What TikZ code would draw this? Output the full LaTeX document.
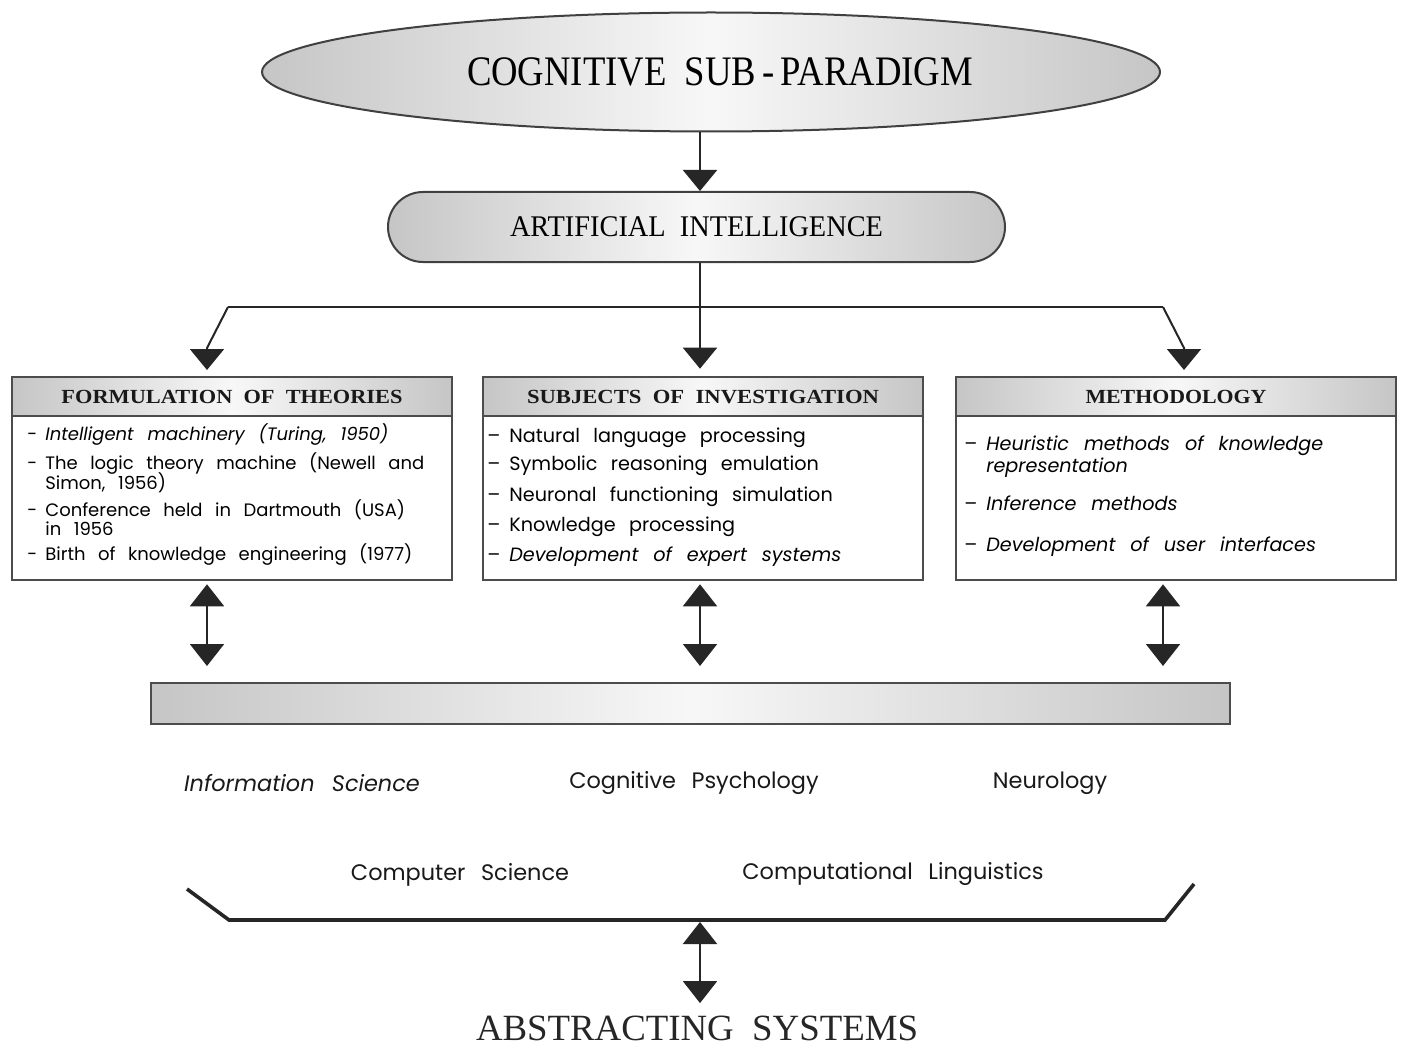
\documentclass[tikz,border=0pt]{standalone}
\usepackage{fontspec}
\usepackage{graphicx}
\setmainfont{Liberation Serif}
\newfontfamily\geo[WordSpace=2.6]{Poppins}
\usetikzlibrary{arrows.meta,shapes.geometric,calc}

% stretch a title to a given width while keeping its height
\newcommand{\fitto}[2]{\resizebox{#1}{\height}{#2}}

\tikzset{
  edge/.style={line width=1pt, draw=black!85},
  tip/.style={-{Triangle[width=17pt,length=10.5pt]}},
  twotip/.style={{Triangle[width=17pt,length=11pt]}-{Triangle[width=17pt,length=11pt]}},
  band/.style={left color=gray!45, right color=gray!45, middle color=gray!6},
  panel/.style={draw=black!70, line width=1.3pt, fill=white, minimum width=220pt,
    minimum height=101.5pt, inner sep=0pt,
    path picture={
      \fill[band] (path picture bounding box.north west) rectangle
        ([yshift=-19.5pt]path picture bounding box.north east);
      \draw[black!70, line width=1.3pt] ([yshift=-19.5pt]path picture bounding box.north west) --
        ([yshift=-19.5pt]path picture bounding box.north east);
    }},
  head/.style={font=\bfseries\fontsize{10}{12}\selectfont, inner sep=0pt, text=black!90},
  body/.style={font=\geo\fontsize{9}{10}\selectfont, anchor=west, inner sep=0pt, text=black},
  bodyi/.style={body, font=\geo\itshape\fontsize{9}{10}\selectfont},
  bodyb/.style={body, font=\geo\fontsize{9.6}{11}\selectfont},
  bodybi/.style={body, font=\geo\itshape\fontsize{9.6}{11}\selectfont},
  field/.style={font=\geo\fontsize{11.2}{13}\selectfont, inner sep=0pt, text=black!90},
}

\begin{document}
\begin{tikzpicture}[x=0.5pt, y=-0.5pt]
\useasboundingbox[fill=white] (0,0) rectangle (1401,1048);

% top of the hierarchy
\node[ellipse, draw=black!75, line width=1pt, band, minimum width=449pt, minimum height=59.5pt, inner sep=0pt]
  (cog) at (711,72) {\hspace*{9pt}\fontsize{21}{24}\selectfont\fitto{253pt}{COGNITIVE\ \ SUB\,-\,PARADIGM}};
\node[draw=black!75, line width=1pt, band, rounded corners=17.5pt, minimum width=308.5pt, minimum height=35pt, inner sep=0pt]
  (ai) at (696.5,227) {\fontsize{15}{18}\selectfont\fitto{186.5pt}{ARTIFICIAL\ \ INTELLIGENCE}};

% the three panels
\node[panel] (b1) at (232,478.5) {};
\node[panel] (b2) at (703,478.5) {};
\node[panel] (b3) at (1176,478.5) {};
\node[head] (h1) at (232,397) {\fitto{170.5pt}{FORMULATION\ \ OF\ \ THEORIES}};
\node[head] (h2) at (703,397) {\fitto{176pt}{SUBJECTS\ \ OF\ \ INVESTIGATION}};
\node[head] (h3) at (1176,397) {\fitto{90.5pt}{METHODOLOGY}};

% panel 1
\node[bodyi] (f1) at (45,435) {\llap{\upshape-\hspace{4pt}}Intelligent machinery (Turing, 1950)};
\node[body] (f2) at (45,464) {\llap{-\hspace{4pt}}The logic theory machine (Newell and};
\node[body] (f2b) at (45,483) {Simon, 1956)};
\node[body] (f3) at (45,510) {\llap{-\hspace{4pt}}Conference held in Dartmouth (USA)};
\node[body] (f3b) at (45,529) {in 1956};
\node[body] (f4) at (45,555) {\llap{-\hspace{4pt}}Birth of knowledge engineering (1977)};

% panel 2
\node[bodyb] (s1) at (509,438) {\llap{–\hspace{4.5pt}}Natural language processing};
\node[bodyb] (s2) at (509,466) {\llap{–\hspace{4.5pt}}Symbolic reasoning emulation};
\node[bodyb] (s3) at (509,497) {\llap{–\hspace{4.5pt}}Neuronal functioning simulation};
\node[bodyb] (s4) at (509,527) {\llap{–\hspace{4.5pt}}Knowledge processing};
\node[bodybi] (s5) at (509,557) {\llap{\upshape–\hspace{4.5pt}}Development of expert systems};

% panel 3
\node[bodybi] (m1) at (986,446) {\llap{\upshape–\hspace{4.5pt}}Heuristic methods of knowledge};
\node[bodybi] (m1b) at (986,468) {representation};
\node[bodybi] (m2) at (986,503) {\llap{\upshape–\hspace{4.5pt}}Inference methods};
\node[bodybi] (m3) at (986,547) {\llap{\upshape–\hspace{4.5pt}}Development of user interfaces};

% shared bar and the fields below it
\node[draw=black!70, line width=1.3pt, band, minimum width=539.5pt, minimum height=20.5pt, inner sep=0pt]
  (bar) at (690.5,703.5) {};
\node[field, font=\geo\itshape\fontsize{11.2}{13}\selectfont] (is) at (302,783) {Information Science};
\node[field] (cp) at (694,783) {Cognitive Psychology};
\node[field] (ne) at (1050,783) {Neurology};
\node[field] (cs) at (460,875) {Computer Science};
\node[field] (cl) at (893,874) {Computational Linguistics};
\node[inner sep=0pt, text=black!85, anchor=base] (abs) at (697,1040)
  {\fontsize{18.5}{22}\selectfont\fitto{221pt}{ABSTRACTING\ \ SYSTEMS}};

% connectors
\coordinate (spine) at (700,0);
\coordinate (jl) at (228,307);
\coordinate (jm) at (700,307);
\coordinate (jr) at (1163,307);
\coordinate (v1) at (207,348);
\coordinate (v3) at (1184,348);
\coordinate (t1) at (207,370);
\coordinate (t3) at (1184,370);
\draw[edge,tip] (cog.south -| spine) -- (ai.north -| spine);
\draw[edge,tip,shorten >=3.5pt] (ai.south -| spine) -- (b2.north -| spine);
\draw[edge] (jl) -- (jr);
\draw[edge,tip] (jl) -- (v1) -- (t1);
\draw[edge,tip] (jr) -- (v3) -- (t3);

\coordinate (x1) at (207,666);
\coordinate (x2) at (700,666);
\coordinate (x3) at (1163,666);
\draw[edge,twotip,shorten <=1.5pt] (b1.south -| x1) -- (x1);
\draw[edge,twotip,shorten <=1.5pt] (b2.south -| x2) -- (x2);
\draw[edge,twotip,shorten <=1.5pt] (b3.south -| x3) -- (x3);

% bracket gathering the fields
\coordinate (k1) at (187,889);
\coordinate (k2) at (229,920);
\coordinate (k3) at (1165,920);
\coordinate (k4) at (1194,884);
\coordinate (km) at (700,922);
\draw[line width=1.8pt, black!85] (k1) -- (k2) -- (k3) -- (k4);
\draw[edge,twotip,shorten >=6pt] (km) -- (abs.north -| km);
\end{tikzpicture}
\end{document}
